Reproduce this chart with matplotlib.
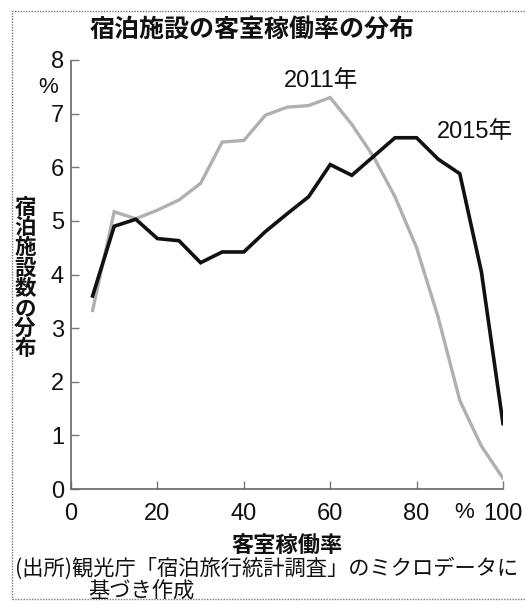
import matplotlib.pyplot as plt
from matplotlib.patches import Rectangle

plt.rcParams['font.family'] = ['Noto Sans CJK JP', 'DejaVu Sans']

# occupancy rate (%) and share of facilities (%)
occupancy = [5, 10, 15, 20, 25, 30, 35, 40, 45, 50,
             55, 60, 65, 70, 75, 80, 85, 90, 95, 100]
share_2011 = [3.33, 5.17, 5.04, 5.2, 5.39, 5.7, 6.47, 6.5, 6.97, 7.12,
              7.15, 7.3, 6.8, 6.2, 5.45, 4.5, 3.2, 1.65, 0.8, 0.2]
share_2015 = [3.6, 4.9, 5.03, 4.67, 4.63, 4.22, 4.42, 4.42, 4.8, 5.13,
              5.45, 6.05, 5.85, 6.2, 6.55, 6.55, 6.15, 5.88, 4.05, 1.22]

x_ticks = [0, 20, 40, 60, 80, 100]
y_ticks = [0, 1, 2, 3, 4, 5, 6, 7, 8]

num_font = ['Liberation Sans Narrow', 'Liberation Sans', 'Noto Sans CJK JP']
label_font = ['Liberation Sans', 'Noto Sans CJK JP']

fig = plt.figure(figsize=(5.26, 6.08), dpi=100)
ax = fig.add_axes([71 / 526, 1 - 489 / 608, (503 - 71) / 526, (489 - 60) / 608])

ax.plot(occupancy, share_2011, color='#b0b0b0', lw=2.4, solid_joinstyle='miter')
ax.plot(occupancy, share_2015, color='#111111', lw=2.6, solid_joinstyle='miter')

ax.set_xlim(0, 100)
ax.set_ylim(0, 8)
ax.set_xticks(x_ticks)
ax.set_yticks(y_ticks)
ax.tick_params(direction='in', length=6, width=1, colors='#777777',
               labelcolor='#111111', labelsize=17)
ax.tick_params(axis='y', pad=5)
ax.tick_params(axis='x', pad=10)
for lab in ax.get_xticklabels() + ax.get_yticklabels():
    lab.set_family(num_font)

for side in ['top', 'right']:
    ax.spines[side].set_visible(False)
for side in ['left', 'bottom']:
    ax.spines[side].set_color('#666666')
    ax.spines[side].set_linewidth(1.2)
    ax.spines[side].set_linestyle((0, (1, 1)))

# unit labels
ax.text(-0.03, 0.937, '%', transform=ax.transAxes, ha='right', va='center',
        fontsize=16, color='#111111', family=num_font)
ax.text(0.91, -0.054, '%', transform=ax.transAxes, ha='center', va='center',
        fontsize=16, color='#111111', family=num_font)

# series labels
ax.text(58, 7.6, '2011年', ha='center', va='center', fontsize=17,
        color='#111111', clip_on=False, family=label_font)
ax.text(93.5, 6.66, '2015年', ha='center', va='center', fontsize=17,
        color='#111111', clip_on=False, family=label_font)

fig.text(252 / 526, 1 - 30 / 608, '宿泊施設の客室稼働率の分布', ha='center', va='center',
         fontsize=18, fontweight='bold', color='#111111')
fig.text(25 / 526, 1 - 278 / 608, '\n'.join('宿泊施設数の分布'), ha='center',
         va='center', fontsize=15.5, fontweight='bold', color='#111111',
         linespacing=0.95)
fig.text(287 / 526, 1 - 545 / 608, '客室稼働率', ha='center', va='center',
         fontsize=16, fontweight='bold', color='#111111')
fig.text(15 / 526, 1 - 569 / 608, '(出所)観光庁「宿泊旅行統計調査」のミクロデータに',
         ha='left', va='center', fontsize=15.3, color='#111111')
fig.text(88 / 526, 1 - 591 / 608, '基づき作成',
         ha='left', va='center', fontsize=15.3, color='#111111')

# dotted frame around the graphic
fig.patches.append(Rectangle((12 / 526, 1 - 599 / 608), 520 / 526, 588 / 608,
                             transform=fig.transFigure, fill=False,
                             edgecolor='#777777', lw=1, linestyle=(0, (1, 1))))

fig.savefig('out.png', dpi=100)
